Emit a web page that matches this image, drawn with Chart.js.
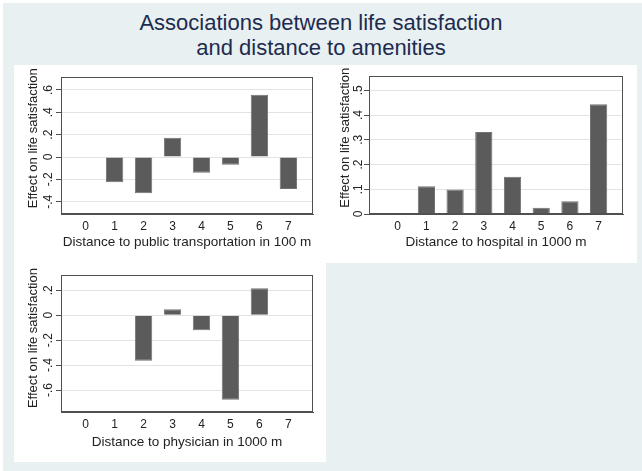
<!DOCTYPE html>
<html>
<head>
<meta charset="utf-8">
<script src="https://cdn.jsdelivr.net/npm/chart.js@4"></script>
<style>
  html, body { margin: 0; padding: 0; background: #ffffff; width: 642px; height: 471px; overflow: hidden; }
  #bg { position: absolute; left: 3px; top: 3px; width: 639px; height: 468px; background: #e8f0f2; }
  #title { position: absolute; left: 0; top: 10px; width: 642px; text-align: center;
           font-family: "Liberation Sans", Arial, sans-serif; font-size: 22px; line-height: 25px; color: #1d2b4f; }
  .white { position: absolute; background: #ffffff; }
  canvas { position: absolute; }
</style>
</head>
<body>
<div id="bg"></div>
<div class="white" style="left:14px;top:65px;width:623px;height:198px;"></div>
<div class="white" style="left:14px;top:263px;width:312px;height:199px;"></div>
<div id="title">Associations between life satisfaction<br>and distance to amenities</div>
<canvas id="c1" width="312" height="198" style="left:14px;top:65px;"></canvas>
<canvas id="c2" width="311" height="198" style="left:326px;top:65px;"></canvas>
<canvas id="c3" width="312" height="199" style="left:14px;top:263px;"></canvas>
<script>
// ---- data ----
const categories = [0, 1, 2, 3, 4, 5, 6, 7];

const transportValues = [null, -0.226, -0.325, 0.173, -0.140, -0.069, 0.558, -0.287];
const hospitalValues  = [null, 0.112, 0.099, 0.332, 0.151, 0.025, 0.052, 0.444];
const physicianValues = [null, null, -0.366, 0.048, -0.120, -0.678, 0.216, null];

const transportTicks = [-0.4, -0.2, 0, 0.2, 0.4, 0.6];
const hospitalTicks  = [0, 0.1, 0.2, 0.3, 0.4, 0.5];
const physicianTicks = [-0.6, -0.4, -0.2, 0, 0.2];

const xTitles = [
  "Distance to public transportation in 100 m",
  "Distance to hospital in 1000 m",
  "Distance to physician in 1000 m"
];
const yTitle = "Effect on life satisfaction";

// ---- helpers ----
const FONT = '"Liberation Sans", Arial, sans-serif';
function fmt(v) {
  const s = String(Number(Number(v).toFixed(3)));
  return s.replace(/^(-?)0\./, '$1.');
}
const boxPlugin = {
  id: 'box',
  afterDatasetsDraw(chart) {
    const a = chart.chartArea, ctx = chart.ctx;
    ctx.save();
    ctx.strokeStyle = '#505050';
    ctx.lineWidth = 1;
    ctx.strokeRect(Math.round(a.left) + 0.5, Math.round(a.top) + 0.5,
                   Math.round(a.right - a.left) - 1, Math.round(a.bottom - a.top) - 1);
    ctx.restore();
  }
};

function makeChart(id, values, yTicks, xTitle, cfg) {
  const canvas = document.getElementById(id);
  const H = canvas.height;
  return new Chart(canvas, {
    type: 'bar',
    data: {
      datasets: [{
        data: categories.map((c, i) => ({ x: c, y: values[i] })),
        backgroundColor: '#5b5b5b',
        borderColor: '#727272',
        borderWidth: 1,
        categoryPercentage: 1,
        barPercentage: 0.6
      }]
    },
    options: {
      responsive: false,
      animation: false,
      devicePixelRatio: 1,
      layout: { padding: { left: 0, top: cfg.top, right: cfg.right, bottom: 0 } },
      plugins: { legend: { display: false }, tooltip: { enabled: false } },
      scales: {
        x: {
          type: 'linear',
          offset: false,
          min: cfg.xmin, max: cfg.xmax,
          afterBuildTicks: s => { s.ticks = categories.map(v => ({ value: v })); },
          afterFit: s => { s.height = H - cfg.bottom; },
          grid: { display: false, drawTicks: false },
          border: { display: true, color: '#505050' },
          ticks: { font: { family: FONT, size: 12 }, color: '#222', padding: 5, callback: v => String(v) },
          title: { display: true, text: xTitle, font: { family: FONT, size: 13.5 }, color: '#222',
                   padding: { top: 0, bottom: cfg.xtPad } }
        },
        y: {
          min: cfg.ymin, max: cfg.ymax,
          afterBuildTicks: s => { s.ticks = yTicks.map(v => ({ value: v })); },
          afterFit: s => { s.width = cfg.left; },
          grid: { color: '#e3e3e3', tickColor: '#505050', tickLength: 5, drawTicks: true },
          border: { display: true, color: '#505050' },
          ticks: { font: { family: FONT, size: 12 }, color: '#222', minRotation: 90, maxRotation: 90,
                   crossAlign: 'center', padding: cfg.ytickPad, callback: v => fmt(v) },
          title: { display: true, text: '\u00a0'.repeat(cfg.lead) + yTitle, font: { family: FONT, size: 13 }, color: '#222',
                   padding: { top: cfg.ytPad, bottom: 0 } }
        }
      }
    },
    plugins: [boxPlugin]
  });
}

makeChart('c1', transportValues, transportTicks, xTitles[0],
  { left: 47, right: 13, top: 12, bottom: 149, xmin: -0.85, xmax: 7.85, ymin: -0.51, ymax: 0.716,
    xtPad: 13, ytPad: 11.7, ytickPad: 0, lead: 4 });
makeChart('c2', hospitalValues, hospitalTicks, xTitles[1],
  { left: 43, right: 14, top: 11, bottom: 149, xmin: -1.0, xmax: 7.85, ymin: 0, ymax: 0.558,
    xtPad: 13, ytPad: 12, ytickPad: 0, lead: 4 });
makeChart('c3', physicianValues, physicianTicks, xTitles[2],
  { left: 47, right: 13, top: 12, bottom: 149, xmin: -0.85, xmax: 7.85, ymin: -0.776, ymax: 0.322,
    xtPad: 12, ytPad: 11.7, ytickPad: 0, lead: 3 });
</script>
</body>
</html>
